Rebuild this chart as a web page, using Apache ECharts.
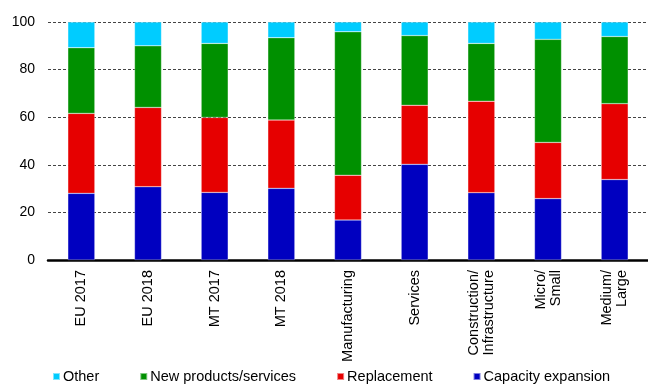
<!DOCTYPE html>
<html>
<head>
<meta charset="utf-8">
<script src="https://cdn.jsdelivr.net/npm/echarts@6/dist/echarts.min.js"></script>
<style>
  html, body { margin: 0; padding: 0; background: #fff; }
  #chart { width: 648px; height: 385px; }
</style>
</head>
<body>
<div id="chart"></div>
<script>
  // categories and series values (percent)
  var categories = ['EU 2017', 'EU 2018', 'MT 2017', 'MT 2018', 'Manufacturing', 'Services',
    'Construction/\nInfrastructure', 'Micro/\nSmall', 'Medium/\nLarge'];
  var capacity = [28.0, 30.8, 28.4, 30.1, 16.8, 40.2, 28.3, 25.8, 33.8];
  var replacement = [33.6, 33.3, 31.5, 28.7, 18.8, 24.8, 38.4, 23.6, 31.9];
  var newProducts = [27.6, 25.9, 31.1, 34.6, 60.3, 29.3, 24.3, 43.3, 28.2];
  var other = [10.8, 10.0, 9.0, 6.6, 4.1, 5.7, 9.0, 7.3, 6.1];

  var myChart = echarts.init(document.getElementById('chart'));
  var font = 'Liberation Sans, Arial, sans-serif';

  function bar(name, data, color) {
    return {
      name: name,
      type: 'bar',
      stack: 'total',
      data: data,
      barWidth: 27,
      itemStyle: { color: color, borderColor: 'rgba(255,255,255,0.5)', borderWidth: 0.5 }
    };
  }

  var option = {
    animation: false,
    textStyle: { fontFamily: font },
    graphic: [{
      type: 'text', left: 8, top: -13,
      style: { text: '(percent)', font: '13px ' + font, fill: '#000' }
    }],
    grid: { left: 48, right: -8, top: 22, bottom: 125, containLabel: false },
    legend: {
      left: 50, top: 367, padding: 2,
      itemWidth: 7, itemHeight: 7, itemGap: 40,
      icon: 'rect',
      textStyle: { fontSize: 14.5, color: '#000', fontFamily: font, padding: [0, 0, 0, -2] },
      data: ['Other', 'New products/services', 'Replacement', 'Capacity expansion']
    },
    xAxis: {
      type: 'category',
      data: categories,
      axisLine: { lineStyle: { color: '#000', width: 2.5 } },
      axisTick: { show: false },
      axisLabel: { rotate: 90, color: '#000', fontSize: 14.5, margin: 10, lineHeight: 15 }
    },
    yAxis: {
      type: 'value',
      min: 0, max: 100, interval: 20,
      axisLine: { show: false },
      axisTick: { show: false },
      axisLabel: { color: '#000', fontSize: 14, margin: 13 },
      splitLine: { lineStyle: { color: '#444', type: [3, 2], width: 1 } }
    },
    series: [
      bar('Capacity expansion', capacity, '#0000c0'),
      bar('Replacement', replacement, '#e60000'),
      bar('New products/services', newProducts, '#009000'),
      bar('Other', other, '#00ccff')
    ]
  };

  myChart.setOption(option);
</script>
</body>
</html>
